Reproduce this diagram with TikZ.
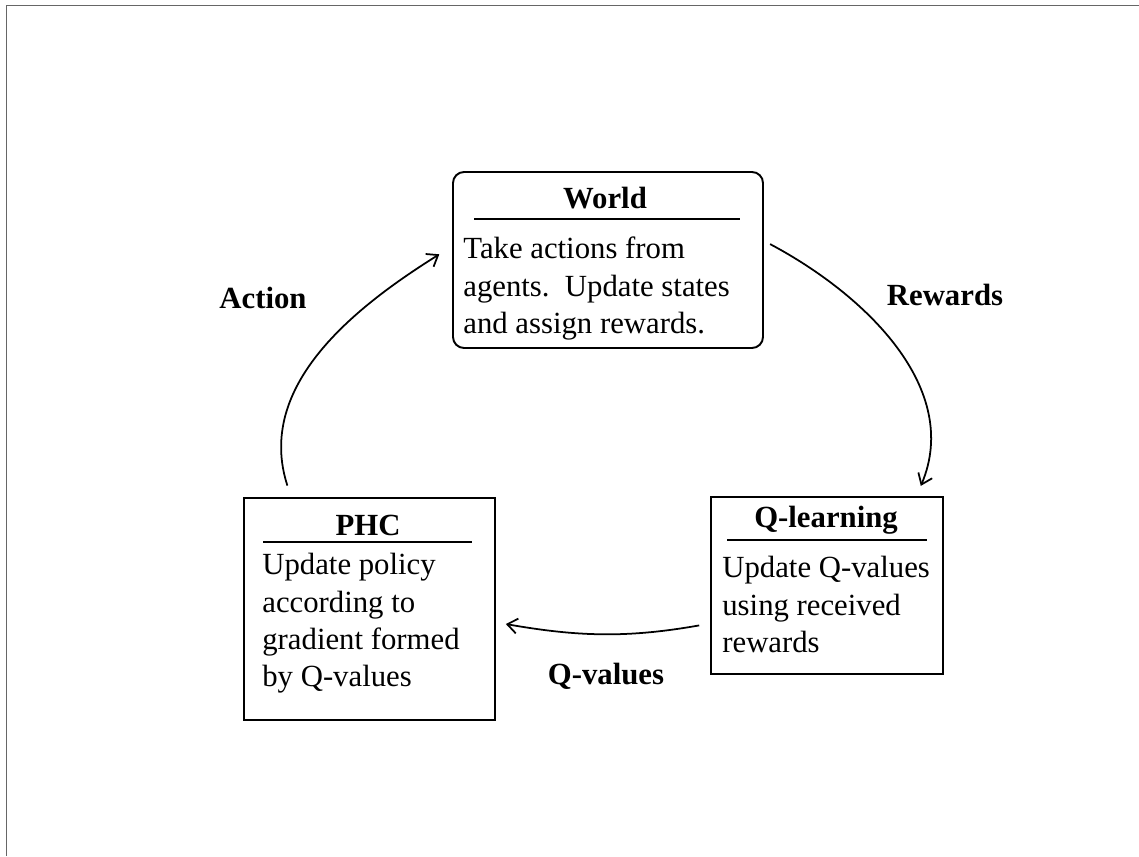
\documentclass[tikz,border=0pt]{standalone}
\usepackage{fontspec}
\setmainfont{Liberation Serif}
\usetikzlibrary{arrows.meta}

\tikzset{
  box/.style={draw, line width=1.1pt},
  boxtitle/.style={anchor=base, font=\bfseries\fontsize{17.5}{21}\selectfont},
  boxtext/.style={anchor=north west, align=left, inner sep=0pt, font=\fontsize{17.5}{21.3}\selectfont},
  flow/.style={-{Straight Barb[length=2mm,width=3mm]}, line width=1pt},
  flowlabel/.style={font=\bfseries\fontsize{17.5}{18}\selectfont}
}

\begin{document}
\begin{tikzpicture}
    \useasboundingbox (0,0) rectangle (22.78,17.12);
    \draw[line width=1.1pt, black!60] (0.13,0) -- (0.13,17.01) -- (22.78,17.01);

    % the three blocks
    \node[box, rounded corners=0.22cm, minimum width=6.2cm, minimum height=3.52cm] (world) at (12.16,11.92) {};
    \node[box, minimum width=5.02cm, minimum height=4.44cm] (phc) at (7.39,4.94) {};
    \node[box, minimum width=4.64cm, minimum height=3.54cm] (qlearn) at (16.54,5.41) {};

    \node[boxtitle] (worldtitle) at (12.1,12.94) {World};
    \draw[line width=1.1pt] (9.48,12.74) -- (14.8,12.74);
    \node[boxtext] (worldtext) at (9.26,12.38) {Take actions from\\agents.\ \ Update states\\and assign rewards.};

    \node[boxtitle] (phctitle) at (7.36,6.4) {PHC};
    \draw[line width=1.1pt] (5.26,6.28) -- (9.44,6.28);
    \node[boxtext] (phctext) at (5.24,6.06) {Update policy\\according to\\gradient formed\\by Q-values};

    \node[boxtitle] (qtitle) at (16.52,6.56) {Q-learning};
    \draw[line width=1.1pt] (14.54,6.32) -- (18.54,6.32);
    \node[boxtext] (qtext) at (14.44,6.0) {Update Q-values\\using received\\rewards};

    % loop between them
    \draw[flow, shorten <=0.24cm, shorten >=0.3cm] (phc.125) to[out=108, in=212] (world.175);
    \draw[flow, shorten <=0.14cm, shorten >=0.22cm] (world.7) to[out=-28, in=67] (qlearn.45);
    \draw[flow, shorten <=0.22cm, shorten >=0.2cm] (qlearn.198) to[out=190, in=-10] (phc.-6);

    \node[flowlabel] (actionlbl) at (5.26,11.16) {Action};
    \node[flowlabel] (rewardslbl) at (18.9,11.22) {Rewards};
    \node[flowlabel] (qvalueslbl) at (12.12,3.6) {Q-values};
\end{tikzpicture}
\end{document}
